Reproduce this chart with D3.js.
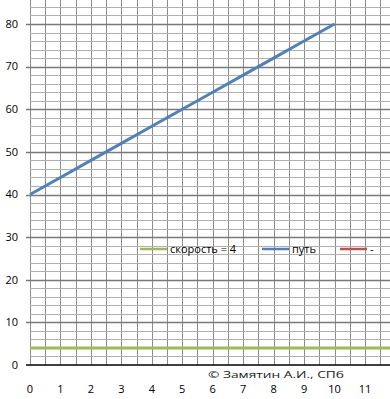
<!DOCTYPE html>
<html>
<head>
<meta charset="utf-8">
<script src="https://cdn.jsdelivr.net/npm/d3@7"></script>
<style>
  body { margin: 0; background: #fff; }
  text { font-family: "Open Sans", "Liberation Sans", sans-serif; }
</style>
</head>
<body>
<svg id="chart" width="390" height="399"></svg>
<script>
// Chart data
const times = [0, 1, 2, 3, 4, 5, 6, 7, 8, 9, 10];
const pathValues = [40, 44, 48, 52, 56, 60, 64, 68, 72, 76, 80];
const speed = 4;
const xTicks = [0, 1, 2, 3, 4, 5, 6, 7, 8, 9, 10, 11];
const yTicks = [0, 10, 20, 30, 40, 50, 60, 70, 80];
const legendLabels = ["скорость = 4", "путь", "-"];
const legendColors = ["#9bbb59", "#4f81bd", "#c0504d"];

const svg = d3.select("#chart");
const plotLeft = 30, plotRight = 390, plotTop = 0, plotBottom = 365;

const x = d3.scaleLinear().domain([0, 10]).range([plotLeft, 334.5]);
const y = d3.scaleLinear().domain([0, 80]).range([plotBottom, 24]);

const xMax = x.invert(plotRight);
const yMax = y.invert(plotTop);

// vertical grid every 0.5
const vGrid = d3.range(0, xMax + 0.01, 0.5);
svg.append("g").selectAll("line")
  .data(vGrid)
  .join("line")
  .attr("x1", d => Math.round(x(d)) + 0.5)
  .attr("x2", d => Math.round(x(d)) + 0.5)
  .attr("y1", plotTop)
  .attr("y2", plotBottom)
  .attr("stroke", "#8c8c8c")
  .attr("stroke-width", 1);

// minor horizontal grid every 2
const hMinor = d3.range(2, yMax, 2).filter(d => d % 10 !== 0);
svg.append("g").selectAll("line")
  .data(hMinor)
  .join("line")
  .attr("x1", plotLeft)
  .attr("x2", plotRight)
  .attr("y1", d => Math.round(y(d)) + 0.5)
  .attr("y2", d => Math.round(y(d)) + 0.5)
  .attr("stroke", "#b0b0b0")
  .attr("stroke-width", 1);

// major horizontal grid
svg.append("g").selectAll("line")
  .data(yTicks.filter(d => d > 0))
  .join("line")
  .attr("x1", plotLeft - 4)
  .attr("x2", plotRight)
  .attr("y1", d => Math.round(y(d)) + 0.5)
  .attr("y2", d => Math.round(y(d)) + 0.5)
  .attr("stroke", "#7a7a7a")
  .attr("stroke-width", 1.5);

// x axis baseline
svg.append("line")
  .attr("x1", plotLeft - 4).attr("x2", plotRight)
  .attr("y1", plotBottom).attr("y2", plotBottom)
  .attr("stroke", "#000").attr("stroke-width", 1.5);

// y labels
svg.append("g").selectAll("text")
  .data(yTicks)
  .join("text")
  .attr("x", 18)
  .attr("y", d => y(d))
  .attr("dy", "0.35em")
  .attr("text-anchor", "end")
  .attr("font-size", 11)
  .attr("fill", "#000")
  .text(d => d);

// x labels
svg.append("g").selectAll("text")
  .data(xTicks)
  .join("text")
  .attr("x", d => x(d))
  .attr("y", 393)
  .attr("text-anchor", "middle")
  .attr("font-size", 11)
  .attr("fill", "#000")
  .text(d => d);

// speed line
svg.append("line")
  .attr("x1", plotLeft).attr("x2", plotRight)
  .attr("y1", y(speed)).attr("y2", y(speed))
  .attr("stroke", legendColors[0])
  .attr("stroke-width", 3);

// path line
const line = d3.line()
  .x((d, i) => x(times[i]))
  .y(d => y(d));
svg.append("path")
  .datum(pathValues)
  .attr("d", line)
  .attr("fill", "none")
  .attr("stroke", legendColors[1])
  .attr("stroke-width", 3)
  .attr("stroke-linejoin", "round");

// legend
const legendX = [140, 262, 340];
const lg = svg.append("g").selectAll("g")
  .data(legendLabels)
  .join("g")
  .attr("transform", (d, i) => `translate(${legendX[i]},249)`);
lg.append("line")
  .attr("x1", 0).attr("x2", 27)
  .attr("stroke", (d, i) => legendColors[i])
  .attr("stroke-width", 2.5);
lg.append("text")
  .attr("x", 30)
  .attr("dy", "0.35em")
  .attr("font-size", 11)
  .attr("fill", "#000")
  .text(d => d);

// copyright
svg.append("text")
  .attr("x", 208)
  .attr("y", 378)
  .attr("font-size", 9)
  .attr("font-family", "DejaVu Sans, sans-serif")
  .attr("textLength", 136)
  .attr("lengthAdjust", "spacingAndGlyphs")
  .attr("fill", "#222")
  .text("© Замятин А.И., СПб");
</script>
</body>
</html>
